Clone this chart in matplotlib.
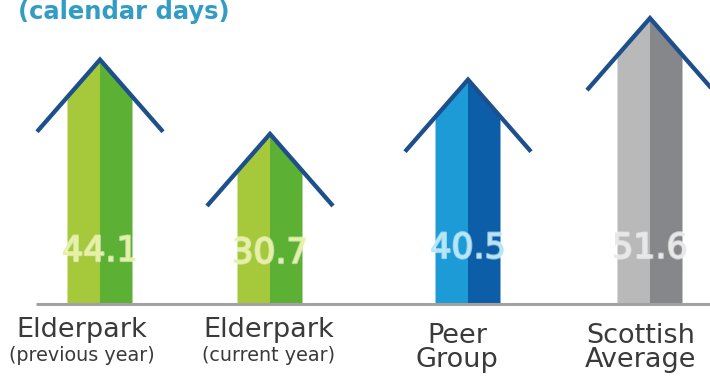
import matplotlib
matplotlib.use("Agg")
import matplotlib.pyplot as plt
import matplotlib.patheffects as pe
from matplotlib.patches import Polygon

# --- data -------------------------------------------------------------
categories = ["Elderpark", "Elderpark", "Peer\nGroup", "Scottish\nAverage"]
subtitles = ["(previous year)", "(current year)", "", ""]
values = [44.1, 30.7, 40.5, 51.6]
value_labels = ["44.1", "30.7", "40.5", "51.6"]
title_text = "(calendar days)"

# --- styling / layout --------------------------------------------------
light_cols = ["#a6c93b", "#a6c93b", "#1c9bd6", "#b9b9b9"]
dark_cols = ["#5cb033", "#5cb033", "#0c5ea8", "#86878b"]
text_cols = ["#e8f0a2", "#e8f0a2", "#b4e8f8", "#e8e8e8"]
chevron_col = "#1d4f8c"
centers = [1.00, 2.70, 4.68, 6.50]
shaft_w = 0.65
wing_span = 0.63
wing_drop = 13.0
px_per_unit = 5.54
base_px = 304
H, W = 381, 710
value_offsets_px = [53, 51, 56, 56]

fig = plt.figure(figsize=(W / 100, H / 100), dpi=100)
ax = fig.add_axes([0, 0, 1, 1])
ax.set_xlim(0, 7.1)
ax.set_ylim(-(H - base_px) / px_per_unit, base_px / px_per_unit)
ax.axis("off")

for cx, v, lc, dc in zip(centers, values, light_cols, dark_cols):
    half = shaft_w / 2
    y_edge = v - wing_drop * half / wing_span
    ax.add_patch(Polygon([(cx - half, 0), (cx - half, y_edge), (cx, v), (cx, 0)],
                         closed=True, facecolor=lc, edgecolor="none", zorder=2))
    ax.add_patch(Polygon([(cx, 0), (cx, v), (cx + half, y_edge), (cx + half, 0)],
                         closed=True, facecolor=dc, edgecolor="none", zorder=2))
    ax.plot([cx - wing_span, cx, cx + wing_span], [v - wing_drop, v, v - wing_drop],
            color=chevron_col, lw=3.1, solid_joinstyle="miter",
            solid_capstyle="butt", zorder=3)

# baseline
ax.plot([0.36, 7.1], [0, 0], color="#a2a2a2", lw=2.2, zorder=4,
        solid_capstyle="butt")

# value labels inside the shafts
for cx, lab, tc, off in zip(centers, value_labels, text_cols, value_offsets_px):
    ax.annotate(lab, xy=(cx, 0), xytext=(0, off * 0.72), textcoords="offset points",
                ha="center", va="center", fontsize=25, color=tc, zorder=5,
                path_effects=[pe.withStroke(linewidth=1.6, foreground="#ffffff", alpha=0.55)])

# category labels
label_x = [0.82, 2.69, 4.57, 6.41]
for i, (cx, cat, sub) in enumerate(zip(label_x, categories, subtitles)):
    lines = cat.split("\n")
    if sub:
        ax.annotate(lines[0], xy=(cx, 0), xytext=(0, -(337 - base_px) * 0.72),
                    textcoords="offset points", ha="center", va="baseline",
                    fontsize=19.5, color="#3a3a3a")
        ax.annotate(sub, xy=(cx, 0), xytext=(0, -(361 - base_px) * 0.72),
                    textcoords="offset points", ha="center", va="baseline",
                    fontsize=13.8, color="#3a3a3a")
    else:
        ax.annotate(lines[0], xy=(cx, 0), xytext=(0, -(343 - base_px) * 0.72),
                    textcoords="offset points", ha="center", va="baseline",
                    fontsize=19.5, color="#3a3a3a")
        ax.annotate(lines[1], xy=(cx, 0), xytext=(0, -(367 - base_px) * 0.72),
                    textcoords="offset points", ha="center", va="baseline",
                    fontsize=19.5, color="#3a3a3a")

fig.text(18 / W, 1 - 19 / H, title_text, ha="left", va="baseline",
         fontsize=17.5, fontweight="bold", color="#329cc4")

fig.savefig("out.png", dpi=100)
